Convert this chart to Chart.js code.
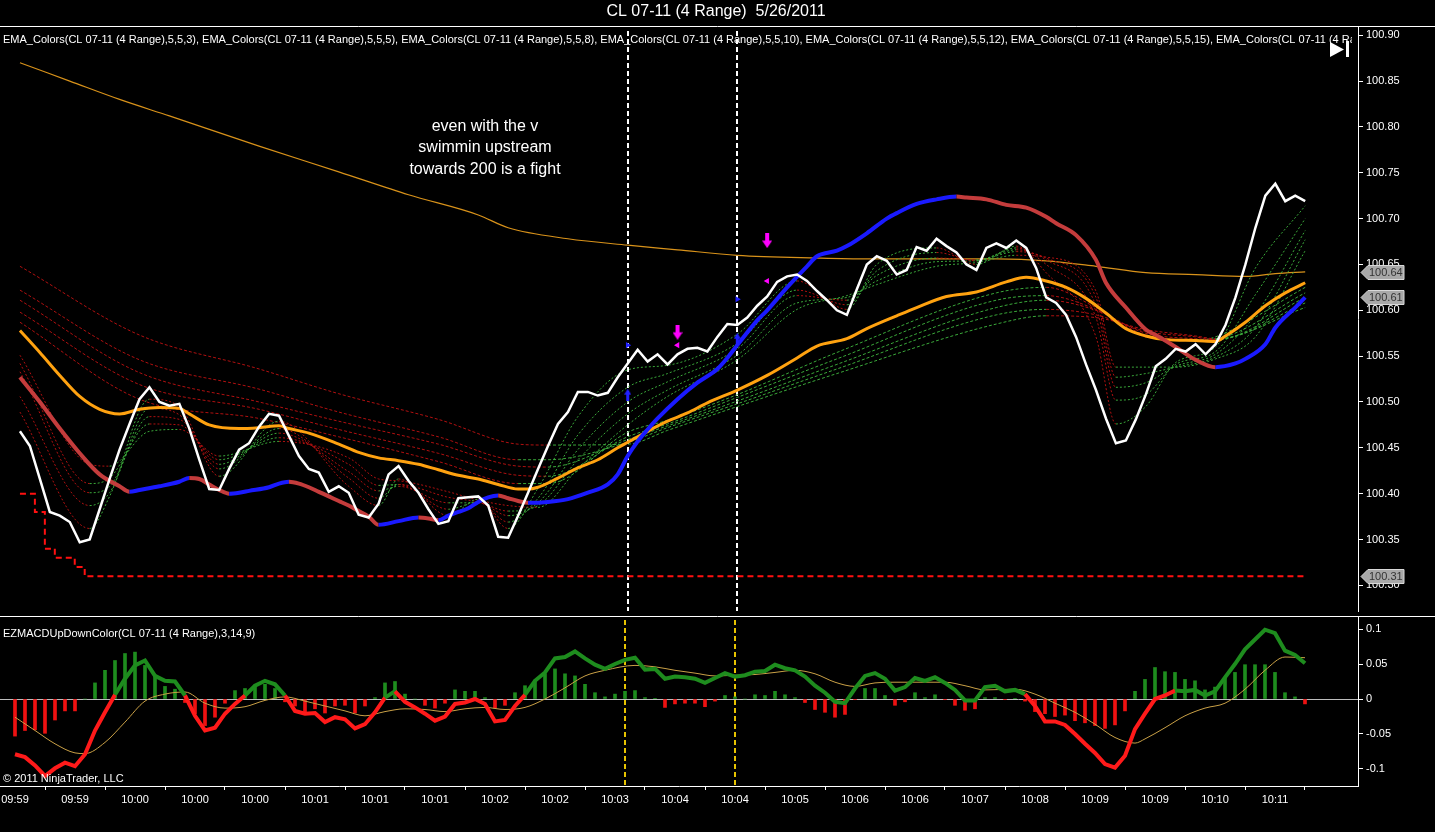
<!DOCTYPE html>
<html>
<head>
<meta charset="utf-8">
<title>CL 07-11 (4 Range) 5/26/2011</title>
<script src="https://cdn.jsdelivr.net/npm/chart.js@4.4.1/dist/chart.umd.min.js"></script>
<style>
  html, body { margin: 0; padding: 0; background: #000; overflow: hidden; }
  #wrap { position: relative; width: 1435px; height: 832px; }
  #priceChart { position: absolute; left: 0; top: 0; }
  #macdChart { position: absolute; left: 0; top: 616px; }
</style>
</head>
<body>
<div id="wrap">
  <canvas id="priceChart" width="1435" height="616"></canvas>
  <canvas id="macdChart" width="1435" height="216"></canvas>
</div>
<script>
// ---- values (x = bar number, 0..129) ----
var timeLabels = ["09:59", "09:59", "10:00", "10:00", "10:00", "10:01", "10:01", "10:01", "10:02", "10:02", "10:03",
                  "10:04", "10:04", "10:05", "10:06", "10:06", "10:07", "10:08", "10:09", "10:09", "10:10", "10:11"];
var labelEvery = 6;
var priceTicks = [100.30, 100.35, 100.40, 100.45, 100.50, 100.55, 100.60, 100.65, 100.70, 100.75, 100.80, 100.85, 100.90];
var macdTicks = [-0.1, -0.05, 0, 0.05, 0.1];
var signalBars = [61, 72];
var emaPeriods = [3, 5, 8, 10, 12, 15, 20];

var closePrice = [
  100.468, 100.452, 100.416, 100.380, 100.376, 100.369, 100.347, 100.350, 100.383, 100.416,
  100.448, 100.476, 100.503, 100.516, 100.500, 100.496, 100.498, 100.471, 100.437, 100.405,
  100.404, 100.427, 100.448, 100.455, 100.473, 100.487, 100.485, 100.463, 100.441, 100.427,
  100.423, 100.402, 100.408, 100.401, 100.377, 100.374, 100.389, 100.421, 100.430, 100.414,
  100.401, 100.383, 100.367, 100.370, 100.395, 100.396, 100.397, 100.387, 100.353, 100.352,
  100.376, 100.401, 100.427, 100.452, 100.476, 100.489, 100.511, 100.511, 100.507, 100.510,
  100.527, 100.542, 100.557, 100.544, 100.552, 100.541, 100.552, 100.558, 100.559, 100.555,
  100.571, 100.585, 100.584, 100.592, 100.605, 100.615, 100.631, 100.637, 100.639, 100.632,
  100.621, 100.611, 100.600, 100.595, 100.623, 100.650, 100.659, 100.654, 100.639, 100.644,
  100.669, 100.665, 100.678, 100.670, 100.663, 100.650, 100.644, 100.668, 100.673, 100.668,
  100.676, 100.668, 100.646, 100.614, 100.608, 100.595, 100.571, 100.541, 100.513, 100.482,
  100.455, 100.458, 100.481, 100.508, 100.539, 100.547, 100.558, 100.555, 100.563, 100.552,
  100.563, 100.584, 100.614, 100.650, 100.690, 100.725, 100.738, 100.719, 100.725, 100.719
];

var ema200Idx = [0, 5, 10, 15, 24, 32, 39, 46, 49, 55, 61, 66, 72, 80, 85, 98, 103, 108, 113, 118, 123, 126, 129];
var ema200 = [100.870, 100.850, 100.830, 100.812, 100.779, 100.751, 100.726, 100.704, 100.690, 100.678, 100.671, 100.666,
              100.660, 100.657, 100.656, 100.656, 100.654, 100.648, 100.641, 100.639, 100.637, 100.640, 100.642];

var emaMidIdx = [0, 2, 4, 6, 8, 10, 12, 14, 16, 17, 19, 22, 24, 26, 27, 29, 32, 34, 36, 38, 40, 42, 44, 46, 48, 50, 51, 52,
                 54, 56, 58, 60, 61, 63, 65, 67, 69, 72, 75, 78, 80, 83, 85, 88, 90, 93, 96, 99, 101, 103, 105, 107, 109,
                 111, 113, 115, 118, 120, 121, 123, 125, 127, 129];
var emaMid = [100.578, 100.554, 100.529, 100.506, 100.492, 100.487, 100.492, 100.494, 100.493, 100.487, 100.475, 100.471,
              100.472, 100.474, 100.471, 100.466, 100.454, 100.445, 100.439, 100.436, 100.432, 100.426, 100.420, 100.416,
              100.410, 100.405, 100.405, 100.407, 100.417, 100.428, 100.437, 100.450, 100.456, 100.468, 100.479, 100.488,
              100.499, 100.513, 100.529, 100.548, 100.561, 100.569, 100.580, 100.594, 100.603, 100.615, 100.620, 100.631,
              100.636, 100.632, 100.625, 100.613, 100.597, 100.580, 100.572, 100.568, 100.567, 100.566, 100.572, 100.587,
              100.605, 100.619, 100.630];

var trendIdx = [0, 2, 4, 6, 8, 10, 11, 12, 14, 16, 17, 18, 19, 20, 21, 22, 23, 25, 26, 27, 28, 29, 30, 31, 32, 33, 34, 35,
                36, 38, 40, 41, 42, 43, 44, 45, 46, 47, 48, 49, 50, 51, 53, 55, 57, 59, 60, 61, 62, 63, 64, 66, 68, 70, 71,
                72, 74, 75, 77, 79, 80, 82, 83, 85, 87, 88, 90, 92, 94, 95, 97, 99, 101, 103, 104, 106, 108, 109, 111, 113,
                114, 116, 118, 120, 122, 123, 125, 126, 128, 129];
var trendVals = [100.527, 100.500, 100.471, 100.444, 100.421, 100.408, 100.402, 100.404, 100.408, 100.413,
                 100.417, 100.416, 100.410, 100.404, 100.400, 100.401, 100.403, 100.407, 100.411, 100.413,
                 100.411, 100.407, 100.402, 100.397, 100.392, 100.387, 100.381, 100.375, 100.366, 100.370,
                 100.374, 100.373, 100.371, 100.376, 100.380, 100.384, 100.391, 100.396, 100.398, 100.395,
                 100.392, 100.390, 100.391, 100.394, 100.401, 100.410, 100.421, 100.441, 100.457, 100.470,
                 100.482, 100.503, 100.521, 100.536, 100.548, 100.562, 100.589, 100.600, 100.625, 100.648,
                 100.659, 100.665, 100.670, 100.684, 100.700, 100.706, 100.716, 100.721, 100.724, 100.723,
                 100.721, 100.715, 100.712, 100.702, 100.695, 100.682, 100.655, 100.630, 100.603, 100.579,
                 100.573, 100.560, 100.546, 100.538, 100.542, 100.547, 100.563, 100.581, 100.603, 100.614];

var fastIdx = [0, 7, 9, 13, 16, 20, 26, 33, 36, 38, 43, 46, 49, 52, 56, 61, 65, 72, 78, 83, 86, 92, 96, 100, 103, 108,
               110, 113, 116, 120, 124, 129];
var fast1 = [100.489, 100.362, 100.397, 100.503, 100.495, 100.419, 100.479, 100.408, 100.387, 100.416, 100.376, 100.394,
             100.362, 100.406, 100.484, 100.535, 100.540, 100.574, 100.632, 100.601, 100.650, 100.668, 100.650, 100.670,
             100.641, 100.571, 100.476, 100.495, 100.543, 100.560, 100.646, 100.714];
var fast2 = [100.506, 100.387, 100.401, 100.493, 100.486, 100.427, 100.471, 100.417, 100.395, 100.410, 100.383, 100.391,
             100.369, 100.395, 100.464, 100.516, 100.531, 100.564, 100.622, 100.606, 100.643, 100.663, 100.654, 100.668,
             100.650, 100.592, 100.502, 100.508, 100.541, 100.555, 100.617, 100.700];
var fast3 = [100.533, 100.401, 100.408, 100.484, 100.481, 100.432, 100.466, 100.424, 100.403, 100.408, 100.390, 100.390,
             100.376, 100.390, 100.448, 100.500, 100.522, 100.558, 100.616, 100.611, 100.638, 100.657, 100.655, 100.666,
             100.655, 100.605, 100.516, 100.521, 100.539, 100.552, 100.595, 100.687];
var fast4 = [100.542, 100.411, 100.417, 100.476, 100.475, 100.437, 100.461, 100.432, 100.409, 100.410, 100.396, 100.391,
             100.381, 100.387, 100.437, 100.487, 100.513, 100.551, 100.608, 100.614, 100.632, 100.653, 100.654, 100.664,
             100.657, 100.614, 100.527, 100.531, 100.538, 100.549, 100.581, 100.677];
var fast5 = [100.551, 100.432, 100.430, 100.468, 100.470, 100.441, 100.457, 100.439, 100.416, 100.414, 100.402, 100.393,
             100.387, 100.385, 100.427, 100.475, 100.506, 100.546, 100.601, 100.616, 100.628, 100.648, 100.652, 100.660,
             100.658, 100.621, 100.538, 100.538, 100.538, 100.547, 100.571, 100.665];

var slowIdx = [0, 12, 24, 32, 42, 50, 53, 61, 65, 72, 82, 98, 103, 108, 113, 118, 120, 129];
var slow1 = [100.648, 100.573, 100.536, 100.509, 100.481, 100.454, 100.453, 100.454, 100.469, 100.495, 100.531, 100.585,
             100.594, 100.592, 100.579, 100.572, 100.569, 100.603];
var slow2 = [100.622, 100.546, 100.514, 100.489, 100.462, 100.437, 100.437, 100.456, 100.472, 100.498, 100.536, 100.595,
             100.601, 100.595, 100.577, 100.571, 100.568, 100.608];
var slow3 = [100.611, 100.532, 100.500, 100.479, 100.454, 100.430, 100.429, 100.459, 100.474, 100.501, 100.541, 100.603,
             100.611, 100.600, 100.575, 100.569, 100.568, 100.614];
var slow4 = [100.598, 100.519, 100.492, 100.470, 100.444, 100.420, 100.419, 100.462, 100.476, 100.505, 100.547, 100.611,
             100.616, 100.601, 100.573, 100.568, 100.569, 100.619];
var slow5 = [100.587, 100.503, 100.482, 100.462, 100.435, 100.411, 100.411, 100.467, 100.480, 100.508, 100.554, 100.619,
             100.625, 100.603, 100.571, 100.567, 100.571, 100.625];

var stopIdx = [0, 1, 2, 3, 4, 5, 6, 7, 129];
var stopVals = [100.40, 100.40, 100.38, 100.34, 100.33, 100.33, 100.32, 100.31, 100.31];

var sellArrowIdx = [66, 75];
var sellArrowPx = [100.576, 100.676];
var sellMarkPx = [100.562, 100.632];
var buyArrowIdx = [61, 72];
var buyArrowPx = [100.508, 100.569];
var buyMarkPx = [100.562, 100.612];

var macdHist = [
  -0.053, -0.045, -0.044, -0.049, -0.030, -0.017, -0.017, 0.000, 0.023, 0.041,
  0.055, 0.065, 0.067, 0.048, 0.034, 0.018, 0.014, -0.005, -0.021, -0.038,
  -0.026, -0.006, 0.012, 0.015, 0.020, 0.021, 0.015, -0.004, -0.010, -0.019,
  -0.014, -0.020, -0.010, -0.009, -0.020, -0.010, 0.002, 0.023, 0.025, 0.007,
  0.000, -0.009, -0.013, -0.006, 0.013, 0.011, 0.011, 0.002, -0.013, -0.009,
  0.009, 0.019, 0.027, 0.036, 0.043, 0.036, 0.033, 0.021, 0.009, 0.003,
  0.007, 0.011, 0.012, 0.002, 0.001, -0.012, -0.007, -0.006, -0.006, -0.011,
  -0.003, 0.005, 0.003, 0.000, 0.006, 0.005, 0.011, 0.006, 0.002, -0.005,
  -0.015, -0.019, -0.026, -0.022, -0.001, 0.015, 0.015, 0.005, -0.009, -0.004,
  0.009, 0.002, 0.006, -0.001, -0.009, -0.016, -0.014, 0.002, 0.002, -0.001,
  0.001, -0.003, -0.018, -0.021, -0.025, -0.023, -0.031, -0.034, -0.038, -0.042,
  -0.037, -0.017, 0.011, 0.028, 0.045, 0.039, 0.038, 0.028, 0.026, 0.013,
  0.017, 0.031, 0.038, 0.049, 0.049, 0.049, 0.038, 0.009, 0.003, -0.007
];
var macdLine = [
  -0.079, -0.083, -0.095, -0.110, -0.099, -0.091, -0.096, -0.079, -0.045, -0.019,
  0.006, 0.029, 0.048, 0.055, 0.033, 0.026, 0.025, 0.005, -0.024, -0.045,
  -0.041, -0.021, -0.007, 0.005, 0.019, 0.026, 0.021, 0.005, -0.017, -0.021,
  -0.020, -0.033, -0.026, -0.029, -0.042, -0.036, -0.019, 0.002, 0.011, -0.004,
  -0.012, -0.021, -0.031, -0.025, -0.007, -0.005, 0.000, -0.007, -0.032, -0.030,
  -0.010, 0.006, 0.026, 0.038, 0.058, 0.060, 0.068, 0.058, 0.049, 0.043,
  0.050, 0.056, 0.059, 0.042, 0.043, 0.029, 0.032, 0.031, 0.029, 0.023,
  0.030, 0.037, 0.032, 0.034, 0.039, 0.040, 0.049, 0.044, 0.041, 0.032,
  0.019, 0.009, -0.004, -0.006, 0.015, 0.033, 0.037, 0.029, 0.012, 0.017,
  0.030, 0.026, 0.031, 0.023, 0.013, -0.002, -0.002, 0.017, 0.019, 0.011,
  0.013, 0.007, -0.010, -0.032, -0.032, -0.037, -0.050, -0.064, -0.077, -0.093,
  -0.098, -0.081, -0.043, -0.021, 0.000, 0.005, 0.012, 0.011, 0.013, 0.005,
  0.011, 0.031, 0.050, 0.071, 0.085, 0.099, 0.094, 0.069, 0.063, 0.051
];
var macdDownRuns = [[0, 10], [17, 23], [27, 37], [38, 51], [101, 116]];
var signalIdx = [0, 2, 4, 6, 7, 9, 11, 13, 15, 17, 19, 21, 23, 25, 27, 29, 31, 33, 35, 37, 39, 41, 43, 45, 47, 49, 51, 53,
                 55, 57, 59, 62, 64, 66, 68, 70, 72, 74, 76, 78, 80, 82, 84, 86, 88, 90, 93, 95, 97, 100, 102, 104, 106,
                 108, 110, 112, 113, 115, 117, 119, 121, 123, 125, 127, 129];
var signalLine = [-0.026, -0.045, -0.064, -0.077, -0.078, -0.062, -0.033, -0.003, 0.007, 0.010, -0.006, -0.013, -0.011,
                  -0.002, 0.003, -0.003, -0.010, -0.017, -0.024, -0.018, -0.014, -0.015, -0.018, -0.014, -0.012, -0.015,
                  -0.012, 0.000, 0.016, 0.033, 0.041, 0.048, 0.046, 0.041, 0.037, 0.033, 0.034, 0.035, 0.038, 0.041,
                  0.036, 0.024, 0.018, 0.023, 0.024, 0.024, 0.024, 0.019, 0.013, 0.014, 0.007, -0.006, -0.019, -0.036,
                  -0.055, -0.063, -0.057, -0.041, -0.024, -0.013, -0.006, 0.014, 0.041, 0.060, 0.059];

// ---- helpers ----
var FONT = 'Arial, "Liberation Sans", sans-serif';
Chart.defaults.font.family = FONT;
Chart.defaults.font.size = 11;
Chart.defaults.color = "#ffffff";

function pts(idx, vals) {
  return vals.map(function (v, k) { return { x: idx[k], y: v }; });
}
function seq(vals) {
  return vals.map(function (v, i) { return { x: i, y: v }; });
}
function upDown(up, down) {
  return { borderColor: function (c) { return c.p1.parsed.y >= c.p0.parsed.y ? up : down; } };
}
function last(a) { return a[a.length - 1]; }

function arrowImage(color, w, h, down) {
  var c = document.createElement("canvas");
  c.width = w; c.height = h;
  var g = c.getContext("2d");
  g.fillStyle = color;
  if (!down) { g.translate(0, h); g.scale(1, -1); }
  var shaft = Math.max(2, Math.round(w * 0.4));
  g.fillRect((w - shaft) / 2, 0, shaft, h * 0.55);
  g.beginPath();
  g.moveTo(0, h * 0.5); g.lineTo(w, h * 0.5); g.lineTo(w / 2, h); g.closePath();
  g.fill();
  return c;
}

var RIB_UP = "#3aa83a", RIB_DN = "#b01010";

function ribbon(idx, vals, dash) {
  return {
    data: pts(idx, vals), borderColor: RIB_UP, borderWidth: 1, borderDash: dash,
    pointRadius: 0, cubicInterpolationMode: "monotone", segment: upDown(RIB_UP, RIB_DN)
  };
}

function verticalMarks(color) {
  return {
    id: "verticalMarks",
    beforeDatasetsDraw: function (chart) {
      var ctx = chart.ctx, a = chart.chartArea, x = chart.scales.x;
      ctx.save();
      ctx.strokeStyle = color; ctx.lineWidth = 2; ctx.setLineDash([5, 3]);
      signalBars.forEach(function (i) {
        var px = Math.round(x.getPixelForValue(i));
        ctx.beginPath(); ctx.moveTo(px, a.top + 4); ctx.lineTo(px, a.bottom); ctx.stroke();
      });
      ctx.restore();
    }
  };
}

function priceTag(ctx, y, text) {
  var tip = 1361, bx = 1368, bw = 36, bh = 14;
  ctx.beginPath();
  ctx.moveTo(tip, y); ctx.lineTo(bx, y - bh / 2); ctx.lineTo(bx + bw, y - bh / 2);
  ctx.lineTo(bx + bw, y + bh / 2); ctx.lineTo(bx, y + bh / 2); ctx.closePath();
  ctx.fillStyle = "#a8a8a8"; ctx.fill();
  ctx.strokeStyle = "#d8d8d8"; ctx.lineWidth = 1; ctx.stroke();
  ctx.fillStyle = "#333333"; ctx.font = "11px " + FONT;
  ctx.textAlign = "left"; ctx.textBaseline = "middle";
  ctx.fillText(text, bx + 1, y + 0.5);
}

var priceDecor = {
  id: "priceDecor",
  afterDraw: function (chart) {
    var ctx = chart.ctx, y = chart.scales.y, W = chart.width;
    ctx.save();
    // title + frame line
    ctx.fillStyle = "#ffffff"; ctx.font = "16px " + FONT;
    ctx.textAlign = "center"; ctx.textBaseline = "middle";
    ctx.fillText("CL 07-11 (4 Range)  5/26/2011", 716, 12);
    ctx.strokeStyle = "#ffffff"; ctx.lineWidth = 1;
    ctx.beginPath(); ctx.moveTo(0, 26.5); ctx.lineTo(W, 26.5); ctx.stroke();
    // indicator caption, clipped like the original
    ctx.save();
    ctx.beginPath(); ctx.rect(0, 28, 1352, 20); ctx.clip();
    ctx.font = "11px " + FONT; ctx.textAlign = "left";
    var caption = emaPeriods.map(function (p) { return "EMA_Colors(CL 07-11 (4 Range),5,5," + p + ")"; }).join(", ");
    ctx.fillText(caption, 3, 40);
    ctx.restore();
    // go-to-end icon
    ctx.beginPath(); ctx.moveTo(1330, 42); ctx.lineTo(1344, 49.5); ctx.lineTo(1330, 57); ctx.closePath(); ctx.fill();
    ctx.fillRect(1346, 41, 3, 16);
    // note
    ctx.font = "16px " + FONT; ctx.textAlign = "center";
    ctx.fillText("even with the v", 485, 127);
    ctx.fillText("swimmin upstream", 485, 148);
    ctx.fillText("towards 200 is a fight", 485, 170);
    // last-value tags
    [last(ema200), last(trendVals), last(stopVals)].forEach(function (v) {
      priceTag(ctx, Math.round(y.getPixelForValue(v)) + 0.5, v.toFixed(2));
    });
    ctx.restore();
  }
};

var macdDecor = {
  id: "macdDecor",
  beforeDatasetsDraw: function (chart) {
    var ctx = chart.ctx, a = chart.chartArea, y = chart.scales.y;
    var zy = Math.round(y.getPixelForValue(0)) + 0.5;
    ctx.save();
    ctx.strokeStyle = "#bdbdbd"; ctx.lineWidth = 1;
    ctx.beginPath(); ctx.moveTo(a.left, zy); ctx.lineTo(a.right, zy); ctx.stroke();
    ctx.restore();
  },
  afterDraw: function (chart) {
    var ctx = chart.ctx;
    ctx.save();
    ctx.strokeStyle = "#ffffff"; ctx.lineWidth = 1;
    ctx.beginPath(); ctx.moveTo(0, 0.5); ctx.lineTo(chart.width, 0.5); ctx.stroke();
    ctx.fillStyle = "#ffffff"; ctx.font = "11px " + FONT;
    ctx.textAlign = "left"; ctx.textBaseline = "middle";
    ctx.fillText("EZMACDUpDownColor(CL 07-11 (4 Range),3,14,9)", 3, 18);
    ctx.fillText("\u00a9 2011 NinjaTrader, LLC", 3, 163);
    ctx.restore();
  }
};

function rightAxis(ticks, fmt, min, max) {
  return {
    position: "right", min: min, max: max,
    afterFit: function (s) { s.width = 77; s.paddingTop = 0; s.paddingBottom = 0; },
    afterBuildTicks: function (s) { s.ticks = ticks.map(function (v) { return { value: v }; }); },
    ticks: { color: "#ffffff", padding: 3, callback: fmt },
    grid: { drawOnChartArea: false, color: "#ffffff", tickLength: 5 },
    border: { display: true, color: "#ffffff" }
  };
}

var X_MIN = -1.5, X_MAX = 134.3;

// ---- price panel ----
var magentaArrow = arrowImage("#ff00ff", 10, 15, true);
var blueArrow = arrowImage("#2020ff", 7, 12, false);

new Chart(document.getElementById("priceChart"), {
  type: "line",
  data: {
    datasets: [
      { data: seq(closePrice), borderColor: "#ffffff", borderWidth: 2.5, pointRadius: 0 },
      { data: pts(sellArrowIdx, sellArrowPx), showLine: false, pointStyle: magentaArrow },
      { data: pts(sellArrowIdx, sellMarkPx), showLine: false, pointStyle: "triangle", rotation: -90,
        pointRadius: 3.5, backgroundColor: "#ff00ff", borderWidth: 0 },
      { data: pts(buyArrowIdx, buyArrowPx), showLine: false, pointStyle: blueArrow },
      { data: pts(buyArrowIdx, buyMarkPx), showLine: false, pointStyle: "triangle", rotation: 90,
        pointRadius: 3.5, backgroundColor: "#2020ff", borderWidth: 0 },
      { data: pts(trendIdx, trendVals), borderColor: "#1a1aff", borderWidth: 4, pointRadius: 0,
        cubicInterpolationMode: "monotone", segment: upDown("#1a1aff", "#c43c3c") },
      { data: pts(emaMidIdx, emaMid), borderColor: "#ffa210", borderWidth: 3, pointRadius: 0,
        cubicInterpolationMode: "monotone" },
      ribbon(fastIdx, fast1, [2, 2]),
      ribbon(fastIdx, fast2, [2, 2]),
      ribbon(fastIdx, fast3, [2, 2]),
      ribbon(fastIdx, fast4, [2, 2]),
      ribbon(fastIdx, fast5, [2, 2]),
      ribbon(slowIdx, slow1, [3, 2]),
      ribbon(slowIdx, slow2, [3, 2]),
      ribbon(slowIdx, slow3, [3, 2]),
      ribbon(slowIdx, slow4, [3, 2]),
      ribbon(slowIdx, slow5, [3, 2]),
      { data: pts(ema200Idx, ema200), borderColor: "#d8921a", borderWidth: 1.2, pointRadius: 0,
        cubicInterpolationMode: "monotone" },
      { data: pts(stopIdx, stopVals), borderColor: "#ff1010", borderWidth: 2, borderDash: [6, 4],
        pointRadius: 0, stepped: "middle" }
    ]
  },
  options: {
    responsive: false,
    animation: false,
    events: [],
    layout: { padding: { top: 27, left: 0, right: 0, bottom: 0 } },
    plugins: { legend: { display: false }, tooltip: { enabled: false } },
    scales: {
      x: { type: "linear", min: X_MIN, max: X_MAX, display: false },
      y: rightAxis(priceTicks, function (v) { return Number(v).toFixed(2); }, 100.272, 100.909)
    }
  },
  plugins: [verticalMarks("#ffffff"), priceDecor]
});

// ---- MACD panel ----
function inDownRun(a, b) {
  return macdDownRuns.some(function (r) { return a >= r[0] && b <= r[1]; });
}

new Chart(document.getElementById("macdChart"), {
  type: "line",
  data: {
    datasets: [
      { data: seq(macdLine), borderColor: "#1e8c1e", borderWidth: 4, pointRadius: 0,
        segment: { borderColor: function (c) { return inDownRun(c.p0.parsed.x, c.p1.parsed.x) ? "#ff1a1a" : "#1e8c1e"; } } },
      { data: pts(signalIdx, signalLine), borderColor: "#c9a046", borderWidth: 1, pointRadius: 0,
        cubicInterpolationMode: "monotone" },
      { type: "bar", data: seq(macdHist), barThickness: 3,
        backgroundColor: function (c) { return c.raw && c.raw.y < 0 ? "#ee1111" : "#1e8c1e"; } }
    ]
  },
  options: {
    responsive: false,
    animation: false,
    events: [],
    layout: { padding: { top: 0, left: 0, right: 0, bottom: 0 } },
    plugins: { legend: { display: false }, tooltip: { enabled: false } },
    scales: {
      x: {
        type: "linear", min: X_MIN, max: X_MAX, offset: false,
        afterFit: function (s) { s.height = 46; s.paddingLeft = 0; s.paddingRight = 0; },
        afterBuildTicks: function (s) {
          s.ticks = timeLabels.map(function (t, k) { return { value: k * labelEvery }; });
        },
        ticks: { color: "#ffffff", autoSkip: false, maxRotation: 0, padding: 3,
                 callback: function (v, k) { return timeLabels[k]; } },
        grid: { drawOnChartArea: false, color: "#ffffff", tickLength: 4 },
        border: { display: true, color: "#ffffff" }
      },
      y: rightAxis(macdTicks, function (v) { return v === 0 ? "0" : String(v); }, -0.1243, 0.1186)
    }
  },
  plugins: [verticalMarks("#e6c300"), macdDecor]
});
</script>
</body>
</html>
